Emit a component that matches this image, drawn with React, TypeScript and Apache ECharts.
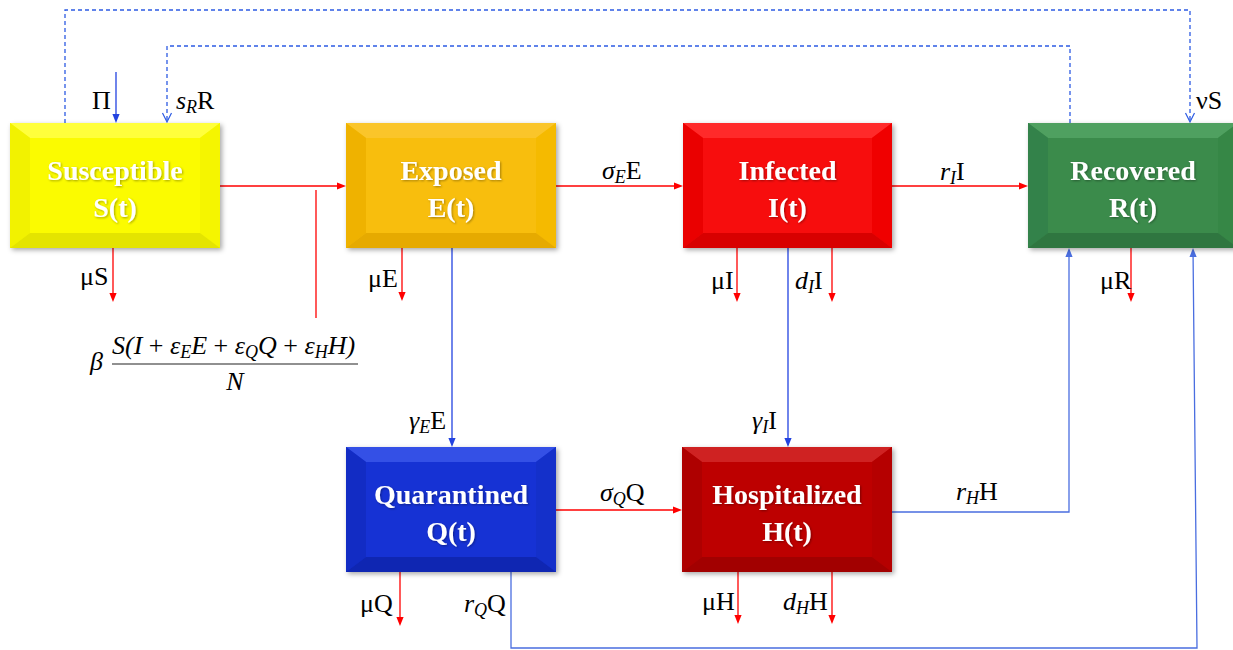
import React, { useEffect, useRef } from "react";
import * as echarts from "echarts";

// ---------- data ----------
const compartmentNames = ["Susceptible", "Exposed", "Infected", "Recovered", "Quarantined", "Hospitalized"];
const compartmentStates = ["S(t)", "E(t)", "I(t)", "R(t)", "Q(t)", "H(t)"];
// flow labels: [italic symbol, italic subscript, upright tail]
const flowSymbols = ["", "s", "", "", "", "σ", "r", "", "d", "", "γ", "γ", "σ", "r", "", "r", "", "d"];
const flowSubscripts = ["", "R", "", "", "", "E", "I", "", "I", "", "E", "I", "Q", "H", "", "Q", "", "H"];
const flowTails = ["Π", "R", "νS", "μS", "μE", "E", "I", "μI", "I", "μR", "E", "I", "Q", "H", "μQ", "Q", "μH", "H"];
const incidenceNumerator = [
  ["S(I", "", ""], [" + ", "", ""], ["ε", "E", "E"], [" + ", "", ""], ["ε", "Q", "Q"], [" + ", "", ""], ["ε", "H", "H)"],
];
const incidenceCoef = "β";
const incidenceDenominator = "N";

// ---------- layout / style ----------
const boxRects = [
  [10, 123, 210, 125],
  [346, 123, 210, 125],
  [683, 123, 209, 125],
  [1028, 123, 210, 125],
  [346, 447, 210, 125],
  [682, 447, 210, 125],
];
const boxPalettes = [
  ["#FBFB00", "#FFFF3C", "#F2F200", "#F5F500", "#E4E400"],
  ["#F8BE0A", "#FAC52A", "#EFB200", "#F5BA00", "#E6AA00"],
  ["#F70808", "#FF2A2A", "#EA0000", "#F00000", "#D80000"],
  ["#3A8B4C", "#4FA060", "#33824A", "#368746", "#2F7640"],
  ["#1632D4", "#3450E6", "#122CC4", "#1430CA", "#0F26B2"],
  ["#BD0505", "#CF2222", "#AE0000", "#B50000", "#A20000"],
];
const labelPos = [
  [92, 100], [176, 100], [1196, 100], [80, 276], [368, 278], [602, 170], [940, 171],
  [711, 280], [795, 280], [1100, 280], [409, 420], [752, 420], [600, 492], [956, 491],
  [360, 603], [464, 603], [702, 601], [783, 601],
];
const RED = "#FF0000";
const BLUE = "#2343E0";
const LBLUE = "#4A6EE0";
const DBLUE = "#2D5BE3";
// [points, color, head: 'fill' | 'open' | 'none', dashed]
const flowPaths: [number[][], string, string, boolean][] = [
  [[[220, 186], [346, 186]], RED, "fill", false],
  [[[316, 190], [316, 318]], RED, "none", false],
  [[[116, 72], [116, 123]], BLUE, "fill", false],
  [[[65, 123], [65, 10], [1190, 10], [1190, 122]], DBLUE, "open", true],
  [[[1070, 123], [1070, 46], [167, 46], [167, 122]], DBLUE, "open", true],
  [[[113, 248], [113, 302]], RED, "fill", false],
  [[[402, 248], [402, 301]], RED, "fill", false],
  [[[452, 248], [452, 447]], BLUE, "fill", false],
  [[[556, 186], [683, 186]], RED, "fill", false],
  [[[892, 186], [1028, 186]], RED, "fill", false],
  [[[737, 248], [737, 302]], RED, "fill", false],
  [[[832, 248], [832, 302]], RED, "fill", false],
  [[[788, 248], [788, 447]], BLUE, "fill", false],
  [[[1131, 248], [1131, 302]], RED, "fill", false],
  [[[556, 510], [682, 510]], RED, "fill", false],
  [[[892, 512], [1069, 512], [1069, 248]], LBLUE, "fill", false],
  [[[511, 572], [511, 648], [1197, 648], [1193, 248]], LBLUE, "fill", false],
  [[[400, 572], [400, 626]], RED, "fill", false],
  [[[738, 572], [738, 624]], RED, "fill", false],
  [[[832, 572], [832, 624]], RED, "fill", false],
];

const SERIF = "'Liberation Serif', 'DejaVu Serif', serif";
const FS = 26;
const rich = {
  m: { fontFamily: SERIF, fontStyle: "italic", fontSize: FS, lineHeight: 32, color: "#111" },
  s: { fontFamily: SERIF, fontStyle: "italic", fontSize: 18, lineHeight: 12, verticalAlign: "bottom", color: "#111" },
  u: { fontFamily: SERIF, fontSize: FS, lineHeight: 32, color: "#111" },
  p: { fontFamily: SERIF, fontSize: FS, lineHeight: 32, color: "#111" },
};

function esc(t: string) {
  return t.replace(/[{}|]/g, "");
}
function richLabel(sym: string, sub: string, tail: string) {
  let s = "";
  if (sym) s += `{m|${esc(sym)}}`;
  if (sub) s += `{s|${esc(sub)}}`;
  if (tail) s += `{u|${esc(tail)}}`;
  return s;
}

function arrowHead(p: number[], q: number[], color: string, kind: string) {
  const dx = q[0] - p[0], dy = q[1] - p[1];
  const len = Math.hypot(dx, dy) || 1;
  const ux = dx / len, uy = dy / len;
  const L = 9;
  const w = kind === "open" ? 4.5 : 3.6;
  const bx = q[0] - ux * L, by = q[1] - uy * L;
  const a = [bx - uy * w, by + ux * w];
  const b = [bx + uy * w, by - ux * w];
  if (kind === "open") {
    return { type: "polyline", silent: true, shape: { points: [a, q, b] }, style: { stroke: color, lineWidth: 1.2, fill: null } };
  }
  return { type: "polygon", silent: true, shape: { points: [q, a, b] }, style: { fill: color } };
}

function buildGraphics() {
  const els: any[] = [];
  flowPaths.forEach(([pts, color, head, dashed]) => {
    const n = pts.length;
    const shortened = pts.map((p) => p.slice());
    if (head === "fill") {
      const p = pts[n - 2], q = pts[n - 1];
      const len = Math.hypot(q[0] - p[0], q[1] - p[1]);
      shortened[n - 1] = [q[0] - ((q[0] - p[0]) / len) * 6, q[1] - ((q[1] - p[1]) / len) * 6];
    }
    els.push({
      type: "polyline",
      silent: true,
      shape: { points: shortened },
      style: { stroke: color, lineWidth: 1.3, fill: null, lineDash: dashed ? [4, 3] : null },
    });
    if (head !== "none") els.push(arrowHead(pts[n - 2], pts[n - 1], color, head));
  });

  compartmentNames.forEach((name, i) => {
    const [x, y, w, h] = boxRects[i];
    const [face, top, left, right, bottom] = boxPalettes[i];
    const bx = 20, by = 15;
    els.push({
      type: "rect",
      silent: true,
      shape: { x, y, width: w, height: h },
      style: { fill: face, shadowBlur: 5, shadowOffsetX: 2, shadowOffsetY: 2, shadowColor: "rgba(0,0,0,0.35)" },
    });
    els.push({ type: "polygon", silent: true, shape: { points: [[x, y], [x + w, y], [x + w - bx, y + by], [x + bx, y + by]] }, style: { fill: top } });
    els.push({ type: "polygon", silent: true, shape: { points: [[x, y], [x + bx, y + by], [x + bx, y + h - by], [x, y + h]] }, style: { fill: left } });
    els.push({ type: "polygon", silent: true, shape: { points: [[x + w, y], [x + w, y + h], [x + w - bx, y + h - by], [x + w - bx, y + by]] }, style: { fill: right } });
    els.push({ type: "polygon", silent: true, shape: { points: [[x, y + h], [x + bx, y + h - by], [x + w - bx, y + h - by], [x + w, y + h]] }, style: { fill: bottom } });
    els.push({
      type: "text",
      silent: true,
      x: x + w / 2,
      y: y + h / 2 + 3,
      style: {
        text: `${name}\n${compartmentStates[i]}`,
        fill: "#FFFFFF",
        fontFamily: SERIF,
        fontWeight: "bold",
        fontSize: 28,
        lineHeight: 37,
        align: "center",
        verticalAlign: "middle",
        textShadowColor: "rgba(0,0,0,0.35)",
        textShadowBlur: 2,
        textShadowOffsetX: 1,
        textShadowOffsetY: 1,
      },
    });
  });

  flowTails.forEach((tail, i) => {
    const [lx, ly] = labelPos[i];
    els.push({
      type: "text",
      silent: true,
      x: lx,
      y: ly,
      style: { text: richLabel(flowSymbols[i], flowSubscripts[i], tail), rich, align: "left", verticalAlign: "middle" },
    });
  });

  const num = incidenceNumerator
    .map(([a, b, c]) => {
      let s = "";
      if (a) s += a.trim() === "+" ? `{p|${a}}` : `{m|${esc(a)}}`;
      if (b) s += `{s|${esc(b)}}`;
      if (c) s += `{m|${esc(c)}}`;
      return s;
    })
    .join("");
  els.push({
    type: "text", silent: true, x: 112, y: 345,
    style: { text: num, rich, align: "left", verticalAlign: "middle" },
  });
  els.push({ type: "line", silent: true, shape: { x1: 112, y1: 364, x2: 358, y2: 364 }, style: { stroke: "#222", lineWidth: 1.2 } });
  els.push({
    type: "text", silent: true, x: 90, y: 361,
    style: { text: `{m|${incidenceCoef}}`, rich, align: "left", verticalAlign: "middle" },
  });
  els.push({
    type: "text", silent: true, x: 235, y: 381,
    style: { text: `{m|${incidenceDenominator}}`, rich, align: "center", verticalAlign: "middle" },
  });
  return els;
}

export default function App() {
  const ref = useRef<HTMLDivElement>(null);
  useEffect(() => {
    if (!ref.current) return;
    const chart = echarts.init(ref.current, undefined, { renderer: "svg" });
    chart.setOption({
      animation: false,
      backgroundColor: "#FFFFFF",
      graphic: { elements: buildGraphics() },
    });
    return () => chart.dispose();
  }, []);
  return (
    <div
      ref={ref}
      style={{ position: "absolute", left: 0, top: 0, width: 1233, height: 650, background: "#fff" }}
    />
  );
}
